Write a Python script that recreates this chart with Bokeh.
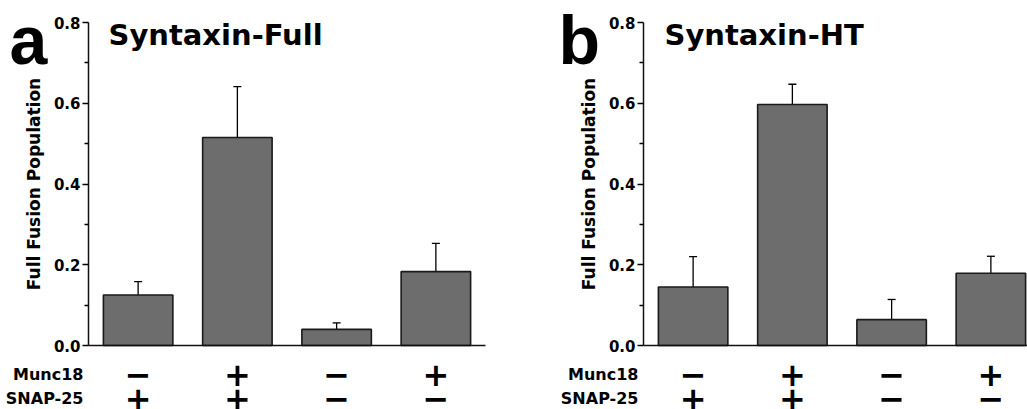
from bokeh.plotting import figure
from bokeh.models import Range1d, ColumnDataSource, Whisker, TeeHead, Label, FixedTicker
from bokeh.layouts import gridplot
from bokeh.embed import file_html
from bokeh.resources import INLINE
from bokeh.core.properties import value

# ---- data ----
conditions = [1, 2, 3, 4]
full_means = [0.125, 0.515, 0.040, 0.183]
full_errs = [0.033, 0.126, 0.016, 0.070]
ht_means = [0.145, 0.597, 0.064, 0.179]
ht_errs = [0.075, 0.050, 0.050, 0.042]
munc18_signs = ["\u2212", "+", "\u2212", "+"]
snap25_signs = ["+", "+", "\u2212", "\u2212"]
row_labels = ["SNAP-25", "Munc18"]
y_ticks = [0.0, 0.2, 0.4, 0.6, 0.8]
y_minor = [0.1, 0.3, 0.5, 0.7]

FONT = "DejaVu Sans"
BAR_FILL = "#6d6d6d"

# ---- layout (pixels) ----
TOP_H = 355          # height of the bar-chart figure
Y0_PX = 345          # pixel row of y = 0
Y08_PX = 22          # pixel row of y = 0.8
AXIS_PX = 88         # pixel column of the y axis inside each panel
X_SCALE = 99.25      # pixels per category
SIGN_H = 54
ROW1_PX, ROW0_PX = 19, 43


def make_panel(letter, title, means, errs, width, letter_dx, title_dx):
    x0 = 0.5 - AXIS_PX / X_SCALE
    xr = Range1d(x0, x0 + width / X_SCALE)
    ys = 0.8 / (Y0_PX - Y08_PX)
    yr = Range1d(-(TOP_H - Y0_PX) * ys, 0.8 + Y08_PX * ys)
    p = figure(width=width, height=TOP_H, x_range=xr, y_range=yr,
               output_backend="svg", toolbar_location=None,
               min_border_left=0, min_border_right=0,
               min_border_top=0, min_border_bottom=0)
    p.outline_line_color = None
    p.grid.visible = False
    p.background_fill_color = "white"
    p.border_fill_color = "white"

    tops = [m + e for m, e in zip(means, errs)]
    src = ColumnDataSource(dict(x=conditions, top=means, upper=tops))
    p.vbar(x="x", top="top", width=0.7, source=src, fill_color=BAR_FILL,
           line_color="#1a1a1a", line_width=1.6)
    w = Whisker(source=src, base="x", lower="top", upper="upper",
                line_color="black", line_width=1.3, lower_head=None,
                upper_head=TeeHead(size=8, line_color="black", line_width=1.3))
    p.add_layout(w)

    # y axis, pinned at x = 0.5
    yax = p.yaxis[0]
    yax.fixed_location = 0.5
    yax.bounds = (0, 0.8)
    yax.ticker = FixedTicker(ticks=y_ticks, minor_ticks=y_minor)
    yax.major_label_overrides = {t: f"{t:.1f}" for t in y_ticks}
    yax.axis_line_width = 1.5
    yax.axis_line_color = "#111111"
    yax.major_tick_out = 6
    yax.major_tick_in = 0
    yax.minor_tick_out = 4
    yax.minor_tick_in = 0
    yax.major_tick_line_width = 1.3
    yax.minor_tick_line_width = 1.3
    yax.major_label_text_font = FONT
    yax.major_label_text_font_style = "bold"
    yax.major_label_text_font_size = "15px"
    yax.major_label_text_color = "black"
    yax.major_label_standoff = 2
    yax.axis_label = "Full Fusion Population"
    yax.axis_label_text_font = FONT
    yax.axis_label_text_font_style = "bold"
    yax.axis_label_text_font_size = "17px"
    yax.axis_label_text_color = "black"
    yax.axis_label_standoff = 7

    # x axis: line only, pinned at y = 0
    xax = p.xaxis[0]
    xax.fixed_location = 0
    xax.bounds = (0.5, 4.5)
    xax.ticker = FixedTicker(ticks=[])
    xax.major_tick_out = 0
    xax.major_tick_in = 0
    xax.minor_tick_out = 0
    xax.minor_tick_in = 0
    xax.major_label_text_font_size = "0px"
    xax.major_label_standoff = 0
    xax.axis_line_width = 1.5
    xax.axis_line_color = "#111111"

    p.add_layout(Label(x=0.5, y=0.8, x_offset=letter_dx, y_offset=-17, text=letter,
                       text_font="Liberation Sans", text_font_style="bold",
                       text_font_size="68px", text_color="black",
                       text_baseline="alphabetic"))
    p.add_layout(Label(x=0.5, y=0.8, x_offset=title_dx, y_offset=-12, text=title,
                       text_font=FONT, text_font_style="bold",
                       text_font_size="29px", text_color="black",
                       text_baseline="alphabetic"))

    # sign rows
    rs = 1.0 / (ROW0_PX - ROW1_PX)
    s = figure(width=width, height=SIGN_H, x_range=xr,
               y_range=Range1d(-(SIGN_H - ROW0_PX) * rs, 1 + ROW1_PX * rs),
               output_backend="svg", toolbar_location=None,
               min_border_left=0, min_border_right=0,
               min_border_top=0, min_border_bottom=0)
    s.outline_line_color = None
    s.grid.visible = False
    s.xaxis.visible = False
    sax = s.yaxis[0]
    sax.fixed_location = 0.5
    sax.ticker = FixedTicker(ticks=[0, 1])
    sax.major_label_overrides = {0: row_labels[0], 1: row_labels[1]}
    sax.axis_line_color = None
    sax.major_tick_line_color = None
    sax.minor_tick_line_color = None
    sax.major_tick_out = 0
    sax.major_tick_in = 0
    sax.major_label_standoff = 5
    sax.major_label_text_font = FONT
    sax.major_label_text_font_style = "bold"
    sax.major_label_text_font_size = "16px"
    sax.major_label_text_color = "black"

    sign_src = ColumnDataSource(dict(
        x=conditions + conditions,
        y=[1] * 4 + [0] * 4,
        t=munc18_signs + snap25_signs,
    ))
    s.text(x="x", y="y", text="t", source=sign_src, text_font=value(FONT),
           text_font_style="bold", text_font_size="32px", text_color="black",
           text_align="center", text_baseline="middle")
    return p, s


pa, sa = make_panel("a", "Syntaxin-Full", full_means, full_errs,
                    width=555, letter_dx=-79, title_dx=20)
pb, sb = make_panel("b", "Syntaxin-HT", ht_means, ht_errs,
                    width=472, letter_dx=-85, title_dx=21)

grid = gridplot([[pa, pb], [sa, sb]], toolbar_location=None)
open("out.html", "w").write(file_html(grid, INLINE))
